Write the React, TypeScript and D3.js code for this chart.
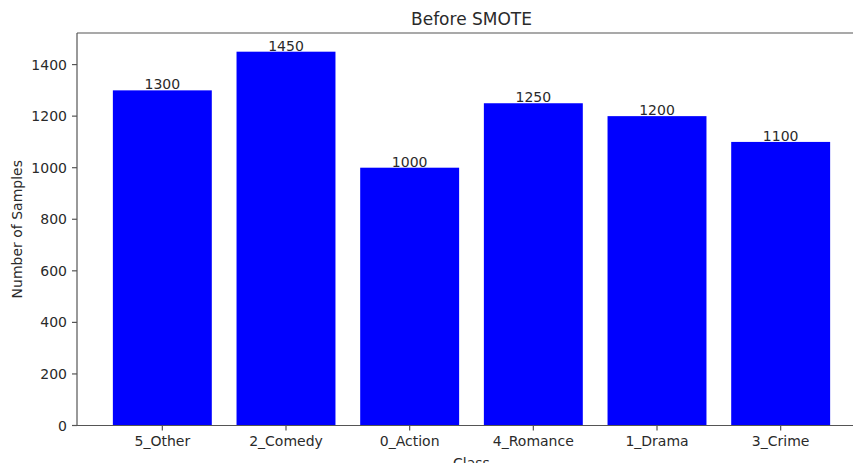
import React from "react";
import * as d3 from "d3";

const categories = ["5_Other", "2_Comedy", "0_Action", "4_Romance", "1_Drama", "3_Crime"];
const counts = [1300, 1450, 1000, 1250, 1200, 1100];
const yTicks = [0, 200, 400, 600, 800, 1000, 1200, 1400];
const title = "Before SMOTE";
const xLabel = "Class";
const yLabel = "Number of Samples";

const W = 853;
const H = 463;
const left = 77;
const right = 866;
const top = 33;
const bottom = 425.5;
const font = "DejaVu Sans, sans-serif";
const textColor = "#2a2a2a";
const spineColor = "#555";

export default function App() {
  const n = categories.length;
  const barW = 0.8;
  const margin = (n - 1 + barW) * 0.05;
  const x = d3
    .scaleLinear()
    .domain([-barW / 2 - margin, n - 1 + barW / 2 + margin])
    .range([left, right]);
  const ymax = d3.max(counts)! * 1.05;
  const y = d3.scaleLinear().domain([0, ymax]).range([bottom, top]);

  return (
    <svg
      width={W}
      height={H}
      style={{ position: "absolute", left: 0, top: 0, background: "#fff" }}
      fontFamily={font}
    >
      <rect x={0} y={0} width={W} height={H} fill="#fff" />
      {counts.map((v, i) => (
        <rect
          key={categories[i]}
          x={x(i - barW / 2)}
          y={y(v)}
          width={x(i + barW / 2) - x(i - barW / 2)}
          height={y(0) - y(v)}
          fill="#0000ff"
        />
      ))}
      {counts.map((v, i) => (
        <text
          key={"l" + i}
          x={x(i)}
          y={y(v) - 1}
          textAnchor="middle"
          fontSize={14}
          fill={textColor}
        >
          {v}
        </text>
      ))}
      {/* spines */}
      <line x1={left} x2={left} y1={top} y2={bottom} stroke={spineColor} strokeWidth={1.2} />
      <line x1={left} x2={right} y1={bottom} y2={bottom} stroke={spineColor} strokeWidth={1.2} />
      <line x1={left} x2={right} y1={top} y2={top} stroke={spineColor} strokeWidth={1.2} />
      <line x1={right} x2={right} y1={top} y2={bottom} stroke={spineColor} strokeWidth={1.2} />
      {/* y ticks */}
      {yTicks.map((t) => (
        <g key={"y" + t}>
          <line x1={left - 5} x2={left} y1={y(t)} y2={y(t)} stroke={spineColor} strokeWidth={1.2} />
          <text
            x={left - 10}
            y={y(t)}
            dy="0.36em"
            textAnchor="end"
            fontSize={14}
            fill={textColor}
          >
            {t}
          </text>
        </g>
      ))}
      {/* x ticks */}
      {categories.map((c, i) => (
        <g key={"x" + c}>
          <line x1={x(i)} x2={x(i)} y1={bottom} y2={bottom + 5} stroke={spineColor} strokeWidth={1.2} />
          <text
            x={x(i)}
            y={bottom + 10}
            dy="0.78em"
            textAnchor="middle"
            fontSize={14}
            fill={textColor}
          >
            {c}
          </text>
        </g>
      ))}
      <text
        x={(left + right) / 2}
        y={bottom + 42}
        textAnchor="middle"
        fontSize={14}
        fill={textColor}
      >
        {xLabel}
      </text>
      <text
        transform={`translate(22, ${(top + bottom) / 2}) rotate(-90)`}
        textAnchor="middle"
        fontSize={14}
        fill={textColor}
      >
        {yLabel}
      </text>
      <text
        x={(left + right) / 2}
        y={top - 8.5}
        textAnchor="middle"
        fontSize={17}
        fill={textColor}
      >
        {title}
      </text>
    </svg>
  );
}
